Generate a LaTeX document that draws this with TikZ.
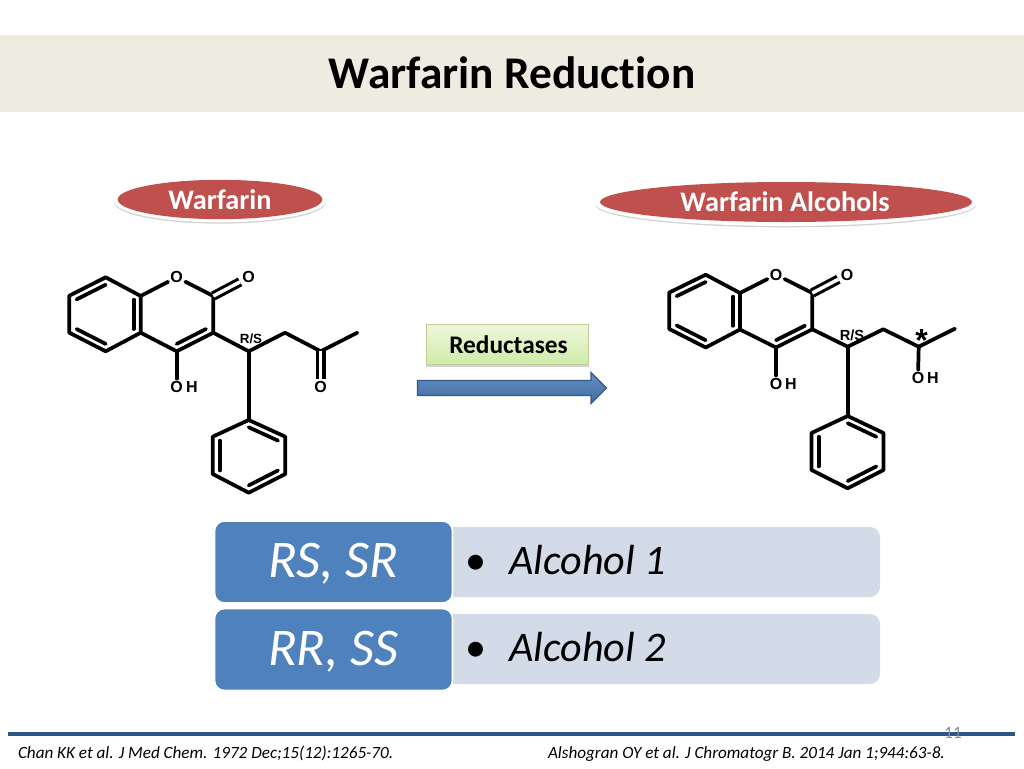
\documentclass[tikz,border=0pt]{standalone}
\usepackage{fontspec}
\setmainfont[Ligatures={TeX,NoCommon}]{Carlito}
\newfontfamily\chem{Liberation Sans}
\usetikzlibrary{calc,shadows,shapes.geometric,arrows.meta}
\definecolor{band}{HTML}{EEECE1}
\definecolor{pillred}{HTML}{C0504D}
\definecolor{mainblue}{HTML}{4F81BD}
\definecolor{panelblue}{HTML}{D3DAE8}
\definecolor{rulecol}{HTML}{2A5587}
\definecolor{enztop}{HTML}{F0F7DC}
\definecolor{enzbot}{HTML}{CDEBA8}
\definecolor{enzedge}{HTML}{C3CD96}
\tikzset{
 txt/.style={anchor=base,inner sep=0pt,outer sep=0pt},
 pillback/.style={ellipse,fill=white,inner sep=0pt,
   drop shadow={shadow xshift=0pt,shadow yshift=-1pt,opacity=.35}},
 pill/.style={ellipse,fill=pillred,inner sep=0pt},
 pilltext/.style={txt,text=white,font=\bfseries\fontsize{21.2}{21}\selectfont},
 bond/.style={line width=2.8pt,line cap=round,line join=round,black},
 dbond/.style={line width=2.3pt,double=white,double distance=2.6pt,black},
 atom/.style={inner sep=1.2pt,outer sep=.6pt,font=\chem\bfseries\fontsize{12}{12}\selectfont},
 hatom/.style={inner sep=0pt,font=\chem\bfseries\fontsize{12}{12}\selectfont},
 rslabel/.style={inner sep=0pt,font=\chem\bfseries\fontsize{10}{10}\selectfont},
 keybox/.style={rounded corners=7.5pt,fill=mainblue,draw=white,line width=1.2pt,minimum width=178.5pt,minimum height=61.5pt,inner sep=0pt},
 panel/.style={rounded corners=7.5pt,fill=panelblue,minimum width=330pt,minimum height=52.5pt,inner sep=0pt},
 keytext/.style={txt,text=white,font=\itshape\fontsize{39.7}{40}\selectfont},
 paneltext/.style={txt,anchor=base west,font=\fontsize{31.6}{32}\selectfont},
 foot/.style={txt,anchor=base west,font=\itshape\fontsize{12.85}{13}\selectfont},
}
% inner line of a ring double bond
\newcommand{\ringin}[3]{\draw[bond] ($(#1)!.2!(#3)$) -- ($(#2)!.2!(#3)$);}
\begin{document}
\begin{tikzpicture}[x=.75pt,y=-.75pt]
\useasboundingbox (0,0) rectangle (1024,768);
\fill[white] (0,0) rectangle (1024,768);
\fill[band] (0,35) rectangle (1024,112);
\node[txt,font=\bfseries\fontsize{34}{34}\selectfont] (title) at (512,88) {Warfarin Reduction};

% pills
\node[pillback,minimum width=159pt,minimum height=32pt] (pillLb) at (220,201) {};
\node[pill,minimum width=153.5pt,minimum height=29.5pt] (pillL) at (220,199.5) {};
\node[pilltext] (pillLt) at (220,209) {Warfarin};
\node[pillback,minimum width=285pt,minimum height=33pt] (pillRb) at (786,204) {};
\node[pill,minimum width=279pt,minimum height=30pt] (pillR) at (786,202) {};
\node[pilltext] (pillRt) at (785,211) {Warfarin Alcohols};

% left molecule
\foreach \n/\x/\y in {a1/105.7/277.3,a2/69.3/295.7,a3/69.3/332.7,a4/105.7/351.3,a5/140.7/332.7,a6/140.7/296,
  c2/213.3/296,c3/213.3/332.7,c4/176.7/351.3,ch/248.7/351.3,ch2/285/332.7,co/320.7/351.3,me/357.3/332.7,
  p1/248.7/420,p2/285.3/436.7,p3/285.3/474,p4/248.7/492.7,p5/212.7/474,p6/212.7/436.7,
  bc/105.7/314.3,pc/176.7/314.3,phc/248.7/456.3}
  {\coordinate (L\n) at (\x,\y);}
\node[atom] (LO1) at (176.7,277.3) {O};
\node[atom] (LO2) at (248.7,277.3) {O};
\node[atom] (LOH) at (176.7,386.7) {O};
\node[hatom] (LH) at (192,386.7) {H};
\node[atom] (LO3) at (320.7,386.7) {O};
\draw[bond] (La1)--(La2)--(La3)--(La4)--(La5)--(La6)--cycle;
\draw[bond] (La6)--(LO1)--(Lc2)--(Lc3)--(Lc4)--(La5);
\draw[dbond] (Lc2)--(LO2);
\draw[bond] (Lc4)--(LOH);
\draw[bond] (Lc3)--(Lch)--(Lch2)--(Lco)--(Lme);
\draw[dbond] (Lco)--(LO3);
\draw[bond] (Lch)--(Lp1);
\draw[bond] (Lp1)--(Lp2)--(Lp3)--(Lp4)--(Lp5)--(Lp6)--cycle;
\ringin{La1}{La2}{Lbc}\ringin{La3}{La4}{Lbc}\ringin{La5}{La6}{Lbc}
\ringin{Lc3}{Lc4}{Lpc}
\ringin{Lp1}{Lp2}{Lphc}\ringin{Lp3}{Lp4}{Lphc}\ringin{Lp5}{Lp6}{Lphc}
\node[rslabel] (LRS) at (251,339) {R/S};

% right molecule
\foreach \n/\x/\y in {a1/705.7/274.7,a2/669.3/292.5,a3/669.3/329,a4/705.7/347.5,a5/740/329.5,a6/740/293,
  c2/812.3/293,c3/812.3/329.3,c4/776/347.5,ch/847.7/346.7,ch2/883.3/329.3,co/918.7/346.7,me/955/328.7,
  p1/847.7/416,p2/883.5/433,p3/883.5/470,p4/847.7/488.3,p5/811.5/470,p6/811.5/433,
  bc/705.7/311,pc/776/311,phc/847.7/452}
  {\coordinate (R\n) at (\x,\y);}
\node[atom] (RO1) at (776,274.7) {O};
\node[atom] (RO2) at (847,274.7) {O};
\node[atom] (ROH) at (776,383.5) {O};
\node[hatom] (RH) at (791,383.5) {H};
\node[atom] (ROH2) at (918,378) {O};
\node[hatom] (RH2) at (933,378) {H};
\draw[bond] (Ra1)--(Ra2)--(Ra3)--(Ra4)--(Ra5)--(Ra6)--cycle;
\draw[bond] (Ra6)--(RO1)--(Rc2)--(Rc3)--(Rc4)--(Ra5);
\draw[dbond] (Rc2)--(RO2);
\draw[bond] (Rc4)--(ROH);
\draw[bond] (Rc3)--(Rch)--(Rch2)--(Rco)--(Rme);
\draw[bond] (Rco)--(ROH2);
\draw[bond] (Rch)--(Rp1);
\draw[bond] (Rp1)--(Rp2)--(Rp3)--(Rp4)--(Rp5)--(Rp6)--cycle;
\ringin{Ra1}{Ra2}{Rbc}\ringin{Ra3}{Ra4}{Rbc}\ringin{Ra5}{Ra6}{Rbc}
\ringin{Rc3}{Rc4}{Rpc}
\ringin{Rp1}{Rp2}{Rphc}\ringin{Rp3}{Rp4}{Rphc}\ringin{Rp5}{Rp6}{Rphc}
\node[rslabel,font=\chem\bfseries\fontsize{11}{11}\selectfont] (RRS) at (852,335) {R/S};
\node[inner sep=0pt,font=\chem\bfseries\fontsize{24}{24}\selectfont] (star) at (921.5,340) {*};

% reductases
\node[rectangle,draw=enzedge,line width=.6pt,top color=enztop,bottom color=enzbot,
  minimum width=122pt,minimum height=30.5pt,inner sep=0pt,drop shadow={shadow xshift=0pt,shadow yshift=-1.4pt,opacity=.35}] (enz) at (507.5,344.5) {};
\node[txt,font=\bfseries\fontsize{19}{19}\selectfont] (enzt) at (508.5,353.5) {Reductases};
\draw[draw=mainblue!70!black,line width=.8pt,top color=mainblue!90!white,bottom color=mainblue!85!black,shading angle=0]
  (417.5,380.5) -- (591,380.5) -- (591,372.5) -- (606.5,388) -- (591,403.5) -- (591,395.5) -- (417.5,395.5) -- cycle;

% panels
\node[panel] (pan1) at (660,562) {};
\node[panel] (pan2) at (660,649) {};
\node[keybox] (key1) at (333.5,562) {};
\node[keybox] (key2) at (333.5,649.5) {};
\node[keytext] (key1t) at (333.5,577) {RS, SR};
\node[keytext] (key2t) at (333.5,665) {RR, SS};
\node[paneltext] (pan1t) at (465.5,574) {•\hspace{17pt}\itshape Alcohol 1};
\node[paneltext] (pan2t) at (465.5,661) {•\hspace{17pt}\itshape Alcohol 2};

% footer
\coordinate (ruleL) at (8,734);
\coordinate (ruleR) at (1015,734);
\draw[rulecol,line width=2.4pt] (ruleL)--(ruleR);
\node[txt,text=black!45,font=\fontsize{13}{13}\selectfont] (pageno) at (953,738) {11};
\node[foot] (f1) at (18,758) {Chan KK et al. J Med Chem.  1972 Dec;15(12):1265-70.};
\node[foot] (f2) at (548,758) {Alshogran OY et al. J Chromatogr B. 2014 Jan 1;944:63-8.};
\end{tikzpicture}
\end{document}
